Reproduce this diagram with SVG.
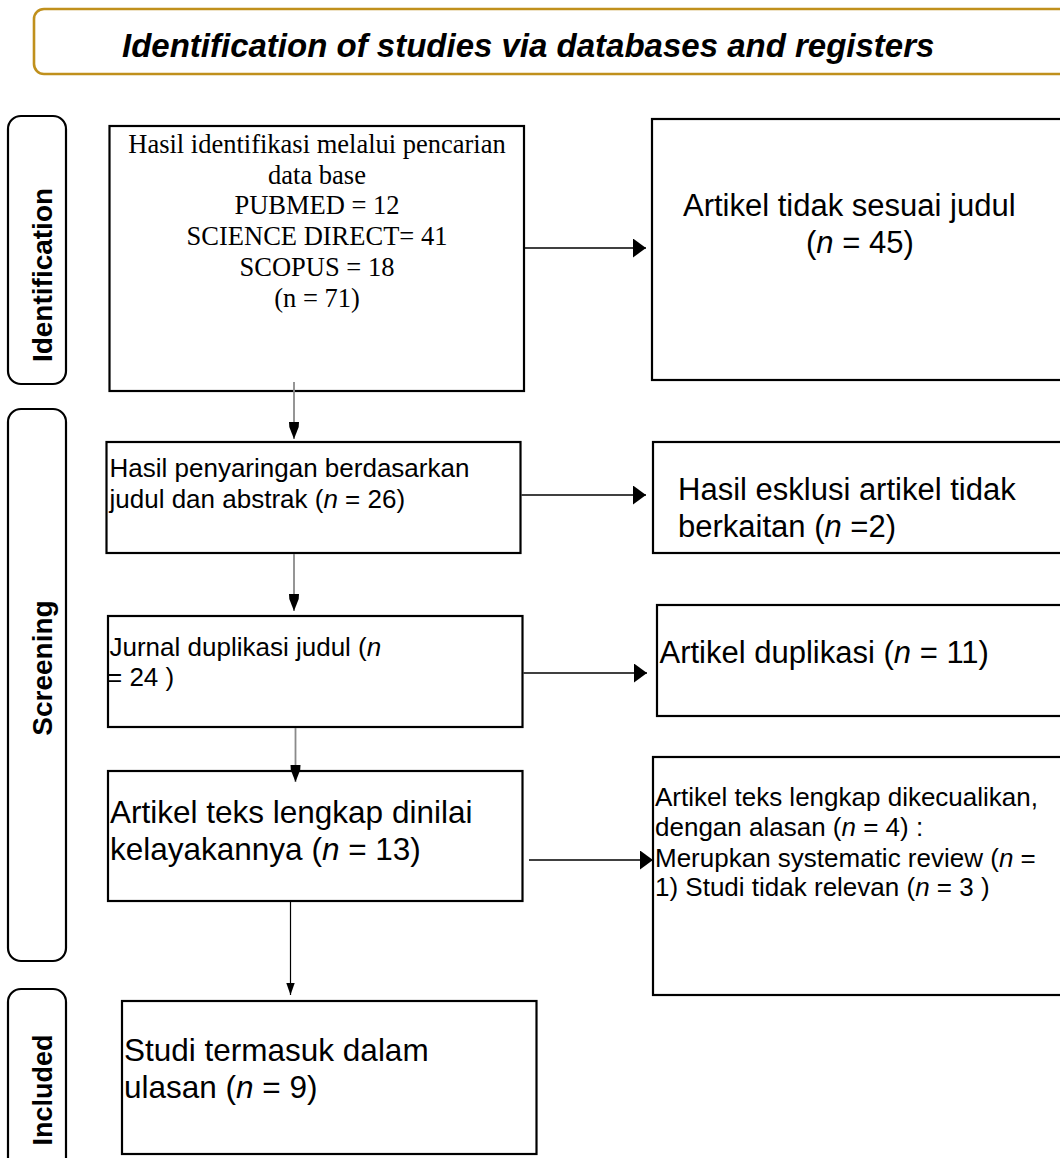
<svg xmlns="http://www.w3.org/2000/svg" width="1060" height="1158" viewBox="0 0 1060 1158">
<style>
  .box { fill: #ffffff; stroke: #000000; stroke-width: 2.2; }
  .side { fill: #ffffff; stroke: #000000; stroke-width: 2.2; }
  .side-t { font-family: "Liberation Sans", Arial, sans-serif; font-weight: bold; font-size: 28px; fill: #000; text-anchor: middle; }
  .sans { font-family: "Liberation Sans", Arial, sans-serif; fill: #000; }
  .serif { font-family: "Liberation Serif", "Times New Roman", serif; fill: #000; font-size: 26.5px; text-anchor: middle; }
  .it { font-style: italic; }
  .hline { stroke: #000; stroke-width: 1.6; fill: none; }
  .vgray { stroke: #8a8a8a; stroke-width: 1.8; fill: none; }
  .vblack { stroke: #000; stroke-width: 1.2; fill: none; }
</style>
<defs>
  <marker id="ah" markerUnits="userSpaceOnUse" markerWidth="15" markerHeight="21" refX="13" refY="9.5" orient="auto">
    <path d="M0,0 L13,9.5 L0,19 Z" fill="#000"/>
  </marker>
  <marker id="av" markerUnits="userSpaceOnUse" markerWidth="19" markerHeight="12" refX="17" refY="5" orient="auto">
    <path d="M0,0 L5,0.3 L17,5 L5,9.7 L0,10 Z" fill="#000"/>
  </marker>
  <marker id="avs" markerUnits="userSpaceOnUse" markerWidth="14" markerHeight="11" refX="12" refY="4.2" orient="auto">
    <path d="M0,0 L12,4.2 L0,8.4 Z" fill="#000"/>
  </marker>
</defs>

<g id="header">
  <rect x="34" y="9" width="1040" height="65" rx="10" ry="10" fill="#ffffff" stroke="#C0901C" stroke-width="2.6"/>
  <text x="122" y="57" class="sans" font-size="33" font-weight="bold" font-style="italic">Identification of studies via databases and registers</text>
</g>

<g id="label-identification">
  <rect class="side" x="8" y="116" width="58" height="268" rx="13" ry="13"/>
  <text class="side-t" transform="translate(52,275) rotate(-90)">Identification</text>
</g>
<g id="label-screening">
  <rect class="side" x="8" y="409" width="58" height="552" rx="13" ry="13"/>
  <text class="side-t" transform="translate(52,668) rotate(-90)">Screening</text>
</g>
<g id="label-included">
  <rect class="side" x="8" y="989" width="58" height="190" rx="13" ry="13"/>
  <text class="side-t" transform="translate(52,1090) rotate(-90)" style="font-size:27px">Included</text>
</g>

<g id="node-identified">
  <rect class="box" x="109.5" y="126" width="414.5" height="265"/>
  <text class="serif" x="317" y="153">Hasil identifikasi melalui pencarian</text>
  <text class="serif" x="317" y="183.5">data base</text>
  <text class="serif" x="317" y="214">PUBMED = 12</text>
  <text class="serif" x="317" y="245">SCIENCE DIRECT= 41</text>
  <text class="serif" x="317" y="276">SCOPUS = 18</text>
  <text class="serif" x="317" y="307">(n = 71)</text>
</g>

<g id="node-excluded-title">
  <rect class="box" x="652" y="119" width="420" height="261"/>
  <text class="sans" font-size="31" x="683" y="216">Artikel tidak sesuai judul</text>
  <text class="sans" font-size="31" x="806" y="253">(<tspan class="it">n</tspan> = 45)</text>
</g>

<g id="node-screened">
  <rect class="box" x="106.5" y="442" width="414" height="111"/>
  <text class="sans" font-size="26" x="109.5" y="477">Hasil penyaringan berdasarkan</text>
  <text class="sans" font-size="26" x="109.5" y="508">judul dan abstrak (<tspan class="it">n</tspan> = 26)</text>
</g>

<g id="node-excluded-unrelated">
  <rect class="box" x="653" y="442" width="420" height="111"/>
  <text class="sans" font-size="31" x="678" y="500">Hasil esklusi artikel tidak</text>
  <text class="sans" font-size="31" x="678" y="537">berkaitan (<tspan class="it">n</tspan> =2)</text>
</g>

<g id="node-duplicates-journal">
  <rect class="box" x="108" y="616" width="414.5" height="111"/>
  <text class="sans" font-size="26" x="109.5" y="656">Jurnal duplikasi judul (<tspan class="it">n</tspan></text>
  <text class="sans" font-size="26" x="107" y="686">= 24 )</text>
</g>

<g id="node-duplicates-article">
  <rect class="box" x="657" y="605" width="416" height="111"/>
  <text class="sans" font-size="31" x="659.5" y="663">Artikel duplikasi (<tspan class="it">n</tspan> = 11)</text>
</g>

<g id="node-fulltext">
  <rect class="box" x="108" y="771" width="414.5" height="130"/>
  <text class="sans" font-size="31.5" x="110" y="823">Artikel teks lengkap dinilai</text>
  <text class="sans" font-size="31.5" x="110" y="860">kelayakannya (<tspan class="it">n</tspan> = 13)</text>
</g>

<g id="node-fulltext-excluded">
  <rect class="box" x="653" y="757" width="420" height="238"/>
  <text class="sans" font-size="26" x="655" y="806">Artikel teks lengkap dikecualikan,</text>
  <text class="sans" font-size="26" x="655" y="836">dengan alasan (<tspan class="it">n</tspan> = 4) :</text>
  <text class="sans" font-size="26" x="655" y="866.5">Merupkan systematic review (<tspan class="it">n</tspan> =</text>
  <text class="sans" font-size="26" x="655" y="896">1) Studi tidak relevan (<tspan class="it">n</tspan> = 3 )</text>
</g>

<g id="node-included">
  <rect class="box" x="122" y="1001" width="414.5" height="153"/>
  <text class="sans" font-size="31.5" x="124" y="1061">Studi termasuk dalam</text>
  <text class="sans" font-size="31.5" x="124" y="1098">ulasan (<tspan class="it">n</tspan> = 9)</text>
</g>

<g id="connectors">
  <line class="hline" x1="525" y1="248" x2="646" y2="248" marker-end="url(#ah)"/>
  <line class="hline" x1="521.5" y1="495" x2="646" y2="495" marker-end="url(#ah)"/>
  <line class="hline" x1="523.5" y1="673" x2="647" y2="673" marker-end="url(#ah)"/>
  <line class="hline" x1="529" y1="860" x2="653" y2="860" marker-end="url(#ah)"/>
  <line class="vgray" x1="294" y1="382" x2="294" y2="439" marker-end="url(#av)"/>
  <line class="vgray" x1="294" y1="554" x2="294" y2="611" marker-end="url(#av)"/>
  <line class="vgray" x1="295.5" y1="728" x2="295.5" y2="782" marker-end="url(#av)"/>
  <line class="vblack" x1="290.5" y1="902" x2="290.5" y2="995" marker-end="url(#avs)"/>
</g>
</svg>
